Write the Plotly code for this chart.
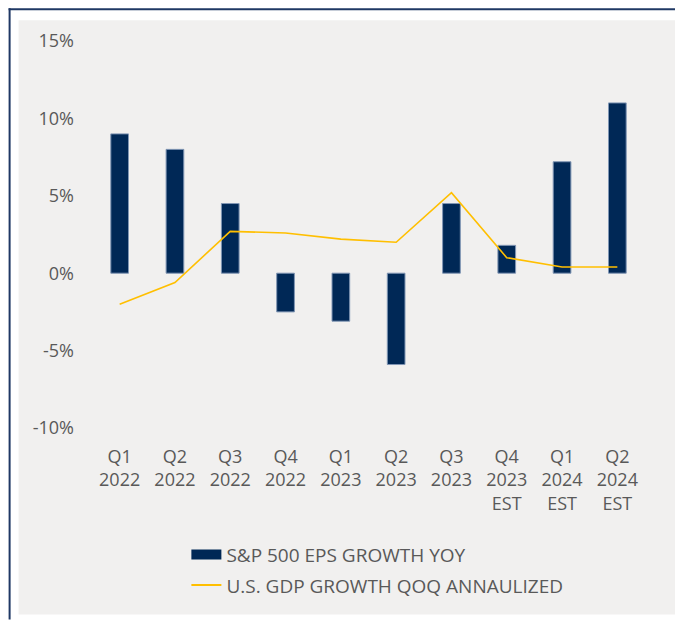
import plotly.graph_objects as go

# ---------------- dati
quarters = ["Q1<br>2022", "Q2<br>2022", "Q3<br>2022", "Q4<br>2022",
            "Q1<br>2023", "Q2<br>2023", "Q3<br>2023", "Q4<br>2023<br>EST",
            "Q1<br>2024<br>EST", "Q2<br>2024<br>EST"]
eps_growth_yoy = [9.0, 8.0, 4.5, -2.5, -3.1, -5.9, 4.5, 1.8, 7.2, 11.0]
gdp_growth_qoq = [-2.0, -0.6, 2.7, 2.6, 2.2, 2.0, 5.2, 1.0, 0.4, 0.4]
y_ticks = [-10, -5, 0, 5, 10, 15]
y_tick_labels = ["-10%", "-5%", "0%", "5%", "10%", "15%"]

NAVY = "#002856"
GOLD = "#ffbf00"
PANEL = "#f1f0ef"
TEXT = "#595959"
FONT = "Open Sans, sans-serif"
FS = 18

# la pagina html ha 8px di margine sul body: la figura parte da (8, 8)
FIG_W, FIG_H = 675, 612
L, R, T, B = 83.5, 37.8, 32.8, 191.7
W, H = FIG_W - L - R, FIG_H - T - B


def px_x(v):
    return (v - L) / W


def px_y(v):
    return (FIG_H - B - v) / H


fig = go.Figure()

fig.add_trace(go.Bar(
    x=quarters,
    y=eps_growth_yoy,
    marker=dict(color=NAVY, line=dict(color="#8096b4", width=1)),
    showlegend=False,
    hoverinfo="x+y",
))

fig.add_trace(go.Scatter(
    x=quarters,
    y=gdp_growth_qoq,
    mode="lines",
    line=dict(color=GOLD, width=1.6),
    showlegend=False,
))

# voci di legenda (rettangolo largo come nell'originale)
fig.add_trace(go.Scatter(
    x=[None], y=[None], mode="lines",
    line=dict(color=NAVY, width=11),
    name="S&P 500 EPS GROWTH YOY", legendgroup="eps",
))
fig.add_trace(go.Scatter(
    x=[None], y=[None], mode="lines",
    line=dict(color=GOLD, width=2),
    name="U.S. GDP GROWTH QOQ ANNAULIZED", legendgroup="gdp",
))

# cornice e pannello grigio
fig.add_shape(type="rect", xref="paper", yref="paper", layer="below",
              x0=px_x(10), x1=px_x(671), y0=px_y(607), y1=px_y(12),
              fillcolor=PANEL, line=dict(width=0))
fig.add_shape(type="line", xref="paper", yref="paper", layer="below",
              x0=px_x(0), x1=px_x(FIG_W), y0=px_y(1), y1=px_y(1),
              line=dict(color="#1f3864", width=2))
fig.add_shape(type="line", xref="paper", yref="paper", layer="below",
              x0=px_x(1), x1=px_x(1), y0=px_y(FIG_H), y1=px_y(0),
              line=dict(color="#1f3864", width=2))

fig.update_layout(
    width=FIG_W,
    height=FIG_H,
    margin=dict(l=L, r=R, t=T, b=B, autoexpand=False),
    paper_bgcolor="white",
    plot_bgcolor=PANEL,
    bargap=0.68,
    font=dict(family=FONT, size=FS, color=TEXT),
    legend=dict(
        x=px_x(178), y=px_y(528), xanchor="left", yanchor="top",
        bgcolor="rgba(0,0,0,0)", tracegroupgap=3,
        font=dict(family=FONT, size=19, color=TEXT),
    ),
)

fig.update_xaxes(
    showgrid=False, showline=False, zeroline=False, ticks="",
    ticklabelstandoff=16, tickangle=0,
    tickfont=dict(family=FONT, size=FS, color=TEXT),
)
fig.update_yaxes(
    range=[-10, 15], tickvals=y_ticks, ticktext=y_tick_labels,
    showgrid=False, showline=False, zeroline=False, ticks="",
    ticklabelstandoff=17,
    tickfont=dict(family=FONT, size=FS, color=TEXT),
)

fig.write_html("out.html")
